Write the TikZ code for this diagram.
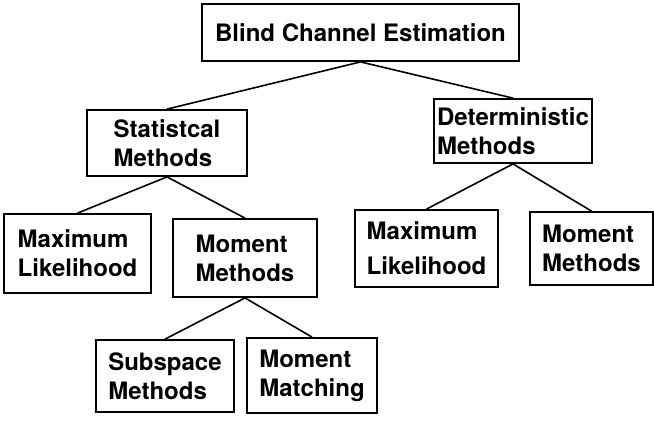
\documentclass[tikz,border=0pt]{standalone}
\usepackage{fontspec}
\setmainfont{TeX Gyre Heros}
\begin{document}
\begin{tikzpicture}[x=.5pt,y=-.5pt,
		box/.style={draw,line width=.9pt,align=left,inner sep=1.5pt,
			font=\fontsize{12}{14.5}\selectfont\bfseries},
		link/.style={line width=.8pt}]
			\useasboundingbox (0,0) rectangle (654,420);
			\node[box,minimum width=158.5pt,minimum height=28.5pt] at (360.5,32.5) (root) {Blind Channel Estimation};
			\node[box,minimum width=80pt,minimum height=33pt] at (167,143) (stat) {Statistcal\\Methods};
			\node[box,minimum width=79pt,minimum height=32pt] at (513,131) (det) {Deterministic\\Methods};
			\node[box,minimum width=73.5pt,minimum height=39.5pt] at (77.5,253.5) (mlA) {Maximum\\Likelihood};
			\node[box,minimum width=72pt,minimum height=39pt] at (245,258) (mmA) {Moment\\Methods};
			\node[box,minimum width=71.5pt,minimum height=38.5pt] at (426.5,248.5) (mlB) {Maximum\\[3pt]Likelihood};
			\node[box,minimum width=61.5pt,minimum height=36.5pt] at (591.5,248.5) (mmB) {Moment\\Methods};
			\node[box,minimum width=69pt,minimum height=36pt] at (165,376) (sub) {Subspace\\Methods};
			\node[box,minimum width=65pt,minimum height=37.5pt] at (312,375.5) (match) {Moment\\Matching};
			%
			\draw[link] (root.south) -- (stat.north);
			\draw[link] (root.south) -- (det.north);
			\draw[link] (stat.south) -- (mlA.north);
			\draw[link] (stat.south) -- (mmA.north);
			\draw[link] (det.south) -- (mlB.north);
			\draw[link] (det.south) -- (mmB.north);
			\draw[link] (mmA.south) -- (sub.north);
			\draw[link] (mmA.south) -- (match.north);
		\end{tikzpicture}
\end{document}
